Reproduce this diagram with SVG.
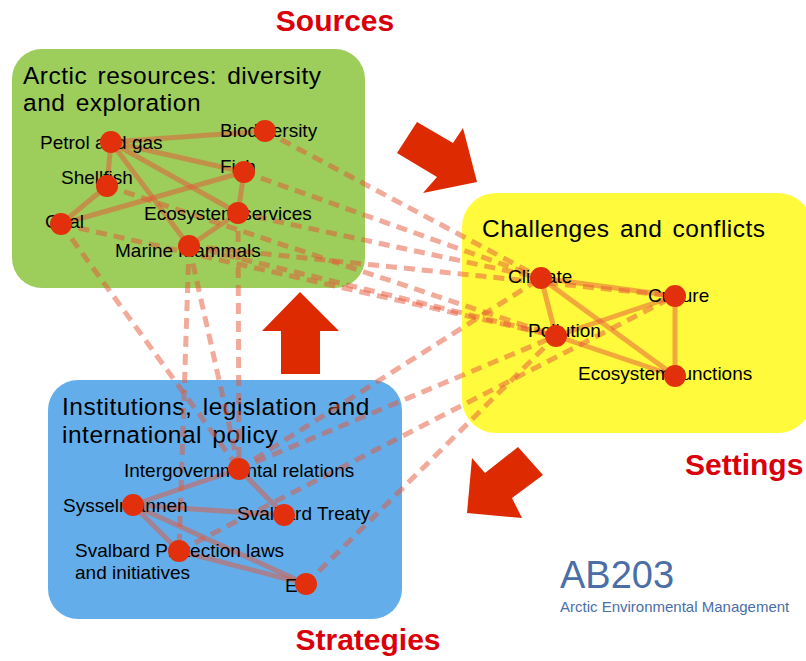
<svg xmlns="http://www.w3.org/2000/svg" width="806" height="661" viewBox="0 0 806 661">
<style>
.t{font-family:"Liberation Sans",Arial,sans-serif;fill:#000}
.title{font-size:24.5px;word-spacing:3px;letter-spacing:0.5px}
.lbl{font-size:19px}
.cap{font-family:"Liberation Sans",Arial,sans-serif;font-weight:bold;font-size:30px;fill:#d9000a}
.e{stroke:rgb(230,85,55);stroke-opacity:0.5;stroke-width:5;fill:none;stroke-linecap:butt}
.d{stroke-dasharray:11 7}
.n{fill:#e2300c}
.arr{fill:#dd2a00}
</style>
<rect width="806" height="661" fill="#ffffff"/>
<g id="box-sources"><rect x="12" y="49" width="353" height="239" rx="30" fill="#9dcd5a"/>
<text class="t title" x="23" y="84">Arctic resources: diversity</text>
<text class="t title" x="23" y="111">and exploration</text></g>
<g id="box-settings"><rect x="462" y="193" width="350" height="240" rx="34" fill="#fffb3c"/>
<text class="t title" x="482" y="237">Challenges and conflicts</text></g>
<g id="box-strategies"><rect x="48" y="380" width="354" height="239" rx="30" fill="#63aeea"/>
<text class="t title" x="62" y="415">Institutions, legislation and</text>
<text class="t title" x="62" y="443">international policy</text></g>
<g id="arrows">
<polygon class="arr" points="397,153 417,122 453,143 463,128 477,182 423,193 437,177"/>
<polygon class="arr" points="300,292 262,331 281,331 281,374 320,374 320,331 339,331"/>
<polygon class="arr" points="518,447 543,475 512,498 522,518 467,513 472,458 485,473"/>
</g>
<g id="connectors">
<line class="e" x1="111" y1="142" x2="265" y2="131"/>
<line class="e" x1="111" y1="142" x2="244" y2="172"/>
<line class="e" x1="111" y1="142" x2="107" y2="186"/>
<line class="e" x1="111" y1="142" x2="189" y2="246"/>
<line class="e" x1="111" y1="142" x2="238" y2="213"/>
<line class="e" x1="107" y1="186" x2="61" y2="224"/>
<line class="e" x1="61" y1="224" x2="244" y2="172"/>
<line class="e" x1="244" y1="172" x2="238" y2="213"/>
<line class="e" x1="238" y1="213" x2="189" y2="246"/>
<line class="e" x1="541" y1="278" x2="675" y2="296"/>
<line class="e" x1="541" y1="278" x2="556" y2="336"/>
<line class="e" x1="541" y1="278" x2="675" y2="376"/>
<line class="e" x1="556" y1="336" x2="675" y2="296"/>
<line class="e" x1="675" y1="296" x2="675" y2="376"/>
<line class="e" x1="556" y1="336" x2="675" y2="376"/>
<line class="e" x1="239" y1="469" x2="133" y2="505"/>
<line class="e" x1="239" y1="469" x2="284" y2="515"/>
<line class="e" x1="133" y1="505" x2="284" y2="515"/>
<line class="e" x1="133" y1="505" x2="179" y2="551"/>
<line class="e" x1="133" y1="505" x2="306" y2="584"/>
<line class="e" x1="179" y1="551" x2="306" y2="584"/>
<line class="e d" x1="265" y1="131" x2="541" y2="278"/>
<line class="e d" x1="244" y1="172" x2="541" y2="278"/>
<line class="e d" x1="238" y1="213" x2="541" y2="278"/>
<line class="e d" x1="107" y1="186" x2="556" y2="336"/>
<line class="e d" x1="61" y1="224" x2="556" y2="336"/>
<line class="e d" x1="189" y1="246" x2="675" y2="296"/>
<line class="e d" x1="189" y1="246" x2="556" y2="336"/>
<line class="e d" x1="61" y1="224" x2="239" y2="469"/>
<line class="e d" x1="189" y1="246" x2="179" y2="551"/>
<line class="e d" x1="189" y1="246" x2="239" y2="469"/>
<line class="e d" x1="238" y1="213" x2="239" y2="469"/>
<line class="e d" x1="239" y1="469" x2="541" y2="278"/>
<line class="e d" x1="239" y1="469" x2="556" y2="336"/>
<line class="e d" x1="179" y1="551" x2="675" y2="296"/>
<line class="e d" x1="306" y1="584" x2="556" y2="336"/>
</g>
<g id="n-petrol"><text class="t lbl" x="40" y="149">Petrol and gas</text><circle class="n" cx="111" cy="142" r="11"/></g>
<g id="n-biodiversity"><text class="t lbl" x="220" y="137">Biodiversity</text><circle class="n" cx="265" cy="131" r="11"/></g>
<g id="n-shellfish"><text class="t lbl" x="61" y="184">Shellfish</text><circle class="n" cx="107" cy="186" r="11"/></g>
<g id="n-fish"><text class="t lbl" x="220" y="173">Fish</text><circle class="n" cx="244" cy="172" r="11"/></g>
<g id="n-ecoserv"><text class="t lbl" x="144" y="220">Ecosystem services</text><circle class="n" cx="238" cy="213" r="11"/></g>
<g id="n-coal"><text class="t lbl" x="45" y="228">Coal</text><circle class="n" cx="61" cy="224" r="11"/></g>
<g id="n-marine"><text class="t lbl" x="115" y="257">Marine mammals</text><circle class="n" cx="189" cy="246" r="11"/></g>
<g id="n-climate"><text class="t lbl" x="508" y="283">Climate</text><circle class="n" cx="541" cy="278" r="11"/></g>
<g id="n-culture"><text class="t lbl" x="648" y="302">Culture</text><circle class="n" cx="675" cy="296" r="11"/></g>
<g id="n-pollution"><text class="t lbl" x="528" y="337">Pollution</text><circle class="n" cx="556" cy="336" r="11"/></g>
<g id="n-ecofunc"><text class="t lbl" x="578" y="380">Ecosystem functions</text><circle class="n" cx="675" cy="376" r="11"/></g>
<g id="n-intergov"><text class="t lbl" x="124" y="477">Intergovernmental relations</text><circle class="n" cx="239" cy="469" r="11"/></g>
<g id="n-syssel"><text class="t lbl" x="63" y="512">Sysselmannen</text><circle class="n" cx="133" cy="505" r="11"/></g>
<g id="n-treaty"><text class="t lbl" x="237" y="520">Svalbard Treaty</text><circle class="n" cx="284" cy="515" r="11"/></g>
<g id="n-protection"><text class="t lbl" x="75" y="557">Svalbard Protection laws</text><text class="t lbl" x="75" y="579">and initiatives</text><circle class="n" cx="179" cy="551" r="11"/></g>
<g id="n-eu"><text class="t lbl" x="285" y="592">EU</text><circle class="n" cx="306" cy="584" r="11"/></g>
<text class="cap" x="335" y="31" text-anchor="middle">Sources</text>
<text class="cap" x="685" y="475">Settings</text>
<text class="cap" x="368" y="650" text-anchor="middle">Strategies</text>
<text x="560" y="588" font-family="Liberation Sans,Arial,sans-serif" font-size="38" fill="#4b6ea7">AB203</text>
<text x="560" y="612" font-family="Liberation Sans,Arial,sans-serif" font-size="15" fill="#4b6ea7">Arctic Environmental Management</text>
</svg>
